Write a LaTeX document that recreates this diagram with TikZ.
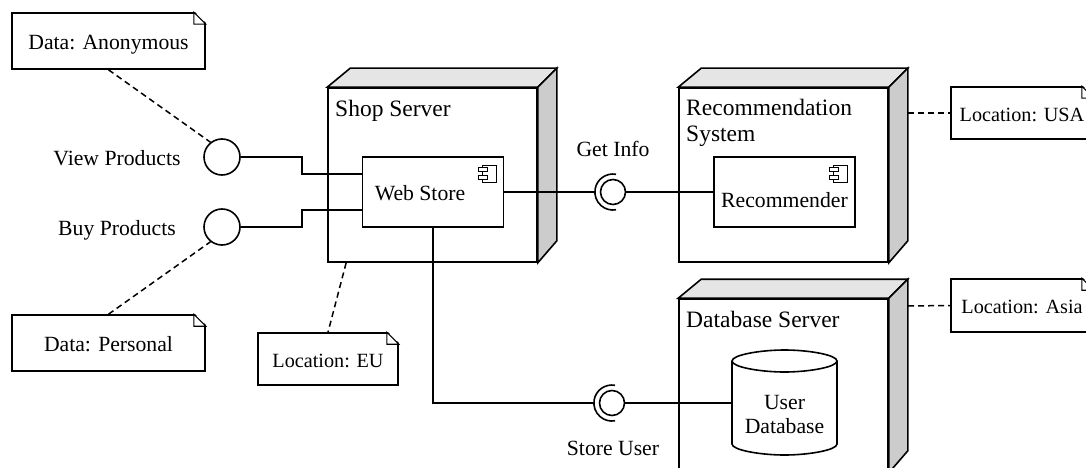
\documentclass[tikz,border=0pt]{standalone}
\usepackage{fontspec}
\setmainfont{Liberation Serif}
\usetikzlibrary{calc}
\definecolor{topgray}{HTML}{E5E5E5}
\definecolor{sidegray}{HTML}{CCCCCC}
\tikzset{
  ln/.style={line width=1.6pt,line join=miter},
  lbl/.style={inner sep=0pt,anchor=base,font=\fontsize{21.7}{24}\selectfont},
  ttl/.style={inner sep=0pt,anchor=base west,font=\fontsize{23.5}{26}\selectfont},
  notebox/.style={ln,draw,fill=white,rectangle,inner sep=0pt,text height=20.5pt,text depth=4pt,font=\fontsize{21.7}{24}\selectfont},
  locnote/.style={notebox,font=\fontsize{20.2}{24}\selectfont},
  compbox/.style={ln,draw,fill=white,rectangle,inner sep=0pt},
  nodefront/.style={ln,draw,fill=white,rectangle,inner sep=0pt,minimum width=209pt},
  iface/.style={ln,draw,fill=white,circle,inner sep=0pt,minimum size=#1},
  dashline/.style={line width=1.5pt,dash pattern=on 6pt off 4pt},
  conn/.style={ln},
}
\newcommand{\cuboidsides}[1]{%
  \path[ln,draw,fill=topgray] (#1.north west) -- ++(23,-19) -- ($(#1.north east)+(19,-19)$) -- (#1.north east) -- cycle;
  \path[ln,draw,fill=sidegray] (#1.north east) -- ++(19,-19) -- ($(#1.south east)+(19,-22)$) -- (#1.south east) -- cycle;
}
\newcommand{\notefold}[1]{%
  \fill[white] ($(#1.north east)+(-12,-1.5)$) -- ($(#1.north east)+(1.5,-1.5)$) -- ($(#1.north east)+(1.5,12)$) -- cycle;
  \draw[line width=1.1pt,line join=miter] ($(#1.north east)+(-12,0)$) -- ($(#1.north east)+(0,12)$) -- ($(#1.north east)+(-12,12)$) -- cycle;
}
\newcommand{\compicon}[1]{%
  \begin{scope}[shift={($(#1.north east)+(-26,9)$)},line width=0.9pt]
    \draw (4,0) rectangle (18,17);
    \draw[fill=white] (0,2.5) rectangle (9,6.5);
    \draw[fill=white] (0,10.5) rectangle (9,14.5);
  \end{scope}
}
\begin{document}
\begin{tikzpicture}[x=1pt,y=-1pt]
\useasboundingbox (0,0) rectangle (1086,468);
\clip (0,0) rectangle (1086,468);
\fill[white] (0,0) rectangle (1086,468);

% deployment nodes
\node[nodefront,minimum height=174pt] (shop) at (432.5,175) {};
\cuboidsides{shop}
\node[nodefront,minimum height=174pt] (rec) at (783.5,175) {};
\cuboidsides{rec}
\node[nodefront,minimum height=173pt] (dbs) at (783.5,385.5) {};
\cuboidsides{dbs}

\node[ttl] (shopT) at (335,117) {Shop Server};
\node[ttl] (recT) at (686,116) {Recommendation};
\node[ttl] (recT2) at (686,142) {System};
\node[ttl] (dbsT) at (686,327) {Database Server};

% components
\node[compbox,minimum width=141pt,minimum height=70pt] (web) at (433,192) {};
\node[lbl] (webT) at (420,200) {Web Store};
\compicon{web}
\node[compbox,minimum width=141pt,minimum height=70pt] (recm) at (784.5,192) {};
\node[lbl] (recmT) at (784.5,207) {Recommender};
\compicon{recm}

% database cylinder
\path[ln,draw,fill=white] (732,361) -- (732,444)
  .. controls (732,450) and (760,455) .. (784.5,455) .. controls (809,455) and (837,450) .. (837,444) -- (837,361)
  .. controls (837,355) and (809,350) .. (784.5,350) .. controls (760,350) and (732,355) .. (732,361) -- cycle;
\draw[ln] (732,361) .. controls (732,367) and (760,372) .. (784.5,372) .. controls (809,372) and (837,367) .. (837,361);
\node[lbl] (dbT) at (784.5,409) {User};
\node[lbl] (dbT2) at (784.5,433) {Database};
\coordinate (dbPort) at (732,403);

% notes
\node[notebox,minimum width=193pt,minimum height=56pt] (noteA) at (108.5,41) {Data: Anonymous};
\notefold{noteA}
\node[notebox,minimum width=193pt,minimum height=56pt] (noteP) at (108.5,343) {Data: Personal};
\notefold{noteP}
\node[locnote,minimum width=140pt,minimum height=52pt] (noteE) at (328,359) {Location: EU};
\notefold{noteE}
\node[locnote,minimum width=142pt,minimum height=52pt] (noteU) at (1022,113) {Location: USA};
\notefold{noteU}
\node[locnote,minimum width=142pt,minimum height=53pt] (noteS) at (1022,305.5) {Location: Asia};
\notefold{noteS}

% provided interfaces
\node[iface=36pt] (view) at (222,157) {};
\node[iface=36pt] (buy) at (222,227) {};
\node[lbl] (viewT) at (117,165) {View Products};
\node[lbl] (buyT) at (117,235) {Buy Products};

% sockets
\node[iface=25pt] (infoS) at (613,192) {};
\draw[ln] (616,174.3) arc[start angle=80,end angle=280,radius=18pt];
\coordinate (infoArc) at (595,192);
\node[iface=25pt] (storeS) at (612,403) {};
\draw[ln] (615,385.3) arc[start angle=80,end angle=280,radius=18pt];
\coordinate (storeArc) at (594,403);
\node[lbl] (infoT) at (613,156) {Get Info};
\node[lbl] (storeT) at (613,455) {Store User};

% connectors
\coordinate (webA) at (362.5,174);
\coordinate (webB) at (362.5,210);
\draw[conn] (view.east) -- (302,157) -- (302,174) -- (webA);
\draw[conn] (buy.east) -- (302,227) -- (302,210) -- (webB);
\draw[conn] (web.east) -- (infoArc);
\draw[conn] (infoS.east) -- (recm.west);
\draw[conn] (web.south) -- (433,403) -- (storeArc);
\draw[conn] (storeS.east) -- (dbPort);

% note links
\draw[dashline] (noteA.south) -- (view.128);
\draw[dashline] (noteP.north) -- (buy.232);
\draw[dashline] ($(shop.south west)!0.09!(shop.south east)$) -- (noteE.north);
\coordinate (recSide) at (908,113);
\coordinate (dbsSide) at (908,306);
\draw[dashline] (recSide) -- (noteU.west);
\draw[dashline] (dbsSide) -- (noteS.west);
\end{tikzpicture}
\end{document}
